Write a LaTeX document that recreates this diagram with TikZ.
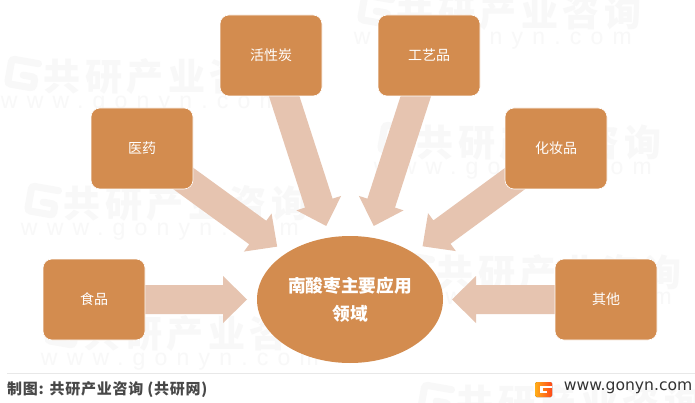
\documentclass[tikz,border=0pt]{standalone}
\usepackage{fontspec}
\setmainfont{Noto Sans CJK SC}
\newfontfamily\latinf{Liberation Sans}
\newfontfamily\sitef{DejaVu Sans}
\usetikzlibrary{calc,backgrounds,shapes.geometric}
\definecolor{boxc}{HTML}{D38C4F}
\definecolor{arrowc}{HTML}{E6C4B0}
\definecolor{wmc}{HTML}{F8F8F8}
\definecolor{srcc}{HTML}{484848}
\definecolor{rulec}{HTML}{E8E8E8}
\tikzset{
  itembox/.style={draw=white,line width=0.6pt,fill=boxc,rounded corners=9pt,minimum width=102pt,minimum height=81pt,inner sep=0pt,text=white,font=\fontsize{14}{16}\selectfont},
  hub/.style={ellipse,fill=boxc,minimum width=186pt,minimum height=127pt,inner sep=0pt,text=white,align=center,font=\fontsize{17.7}{28}\selectfont\bfseries},
  wmcn/.style={text=wmc,anchor=west,inner sep=0pt,font=\fontsize{37}{39}\selectfont\bfseries\addfontfeatures{LetterSpace=12}},
  wmen/.style={text=wmc,anchor=west,inner sep=0pt,font=\latinf\fontsize{23}{25}\selectfont\addfontfeatures{LetterSpace=40}},
  wmlogo/.style={draw=wmc,line width=7pt,rounded corners=3pt,line cap=round},
  blockfill/.style={fill=arrowc,draw=none},
}
% #1 source node, #2 hub node, #3 tip distance from hub centre
\newcommand{\blockarrow}[3]{%
  \coordinate (tp) at ($(#2)!#3pt!(#1)$);
  \coordinate (hb) at ($(tp)!24pt!(#1)$);
  \fill[blockfill] ($(#1)!14.5pt!-90:(tp)$) -- ($(hb)!14.5pt!90:(#1)$) -- ($(hb)!23.5pt!90:(#1)$) -- (tp) -- ($(hb)!23.5pt!-90:(#1)$) -- ($(hb)!14.5pt!-90:(#1)$) -- ($(#1)!14.5pt!90:(tp)$) -- cycle;
}
% watermark, origin at the centre of its first character
\newcommand{\wmark}[3]{%
  \begin{scope}[shift={(#2,#3)},rotate=-10]
  \draw[wmlogo] (-26,-12) -- (-53,-12) -- (-53,13) -- (-27,13) -- (-27,2) -- (-39,2);
  \node[wmcn] (#1a) at (-18.5,0) {共研产业咨询};
  \node[wmen] (#1b) at (-56,35) {www.gonyn.com};
  \end{scope}
}
\begin{document}
\begin{tikzpicture}[x=1pt,y=-1pt]
\useasboundingbox (0,0) rectangle (695,403);
\begin{scope}[on background layer]
\fill[white] (0,0) rectangle (695,403);
\wmark{wa}{62}{80}
\wmark{wb}{82}{207}
\wmark{wc}{102}{337}
\wmark{wd}{415}{16}
\wmark{we}{435}{146}
\wmark{wf}{455}{276}
\wmark{wg}{475}{406}
\end{scope}
\node[hub] (hubn) at (350,299.5) {南酸枣主要应用\\领域};
\node[itembox] (food) at (94,299.5) {食品};
\node[itembox] (med) at (142,148.5) {医药};
\node[itembox] (carbon) at (271,55.5) {活性炭};
\node[itembox] (craft) at (429,55.5) {工艺品};
\node[itembox] (cosm) at (556,148.5) {化妆品};
\node[itembox] (other) at (606,299.5) {其他};
\begin{scope}[on background layer]
\blockarrow{food}{hubn}{103}
\blockarrow{med}{hubn}{90}
\blockarrow{carbon}{hubn}{77.3}
\blockarrow{craft}{hubn}{77.3}
\blockarrow{cosm}{hubn}{90}
\blockarrow{other}{hubn}{102}
\end{scope}
\draw[rulec,line width=0.8pt] (7,373.5) -- (695,373.5);
\node[anchor=west,inner sep=0pt,text=srcc,font=\fontsize{15}{17}\selectfont\bfseries\addfontfeatures{LetterSpace=5}] (src) at (7,390) {制图: 共研产业咨询 (共研网)};
\node[anchor=east,inner sep=0pt,text=black!80,font=\sitef\fontsize{15.6}{17}\selectfont] (site) at (692.5,387.5) {www.gonyn.com};
\fill[left color=orange!70!yellow!90!white,right color=red!60!orange!90!white,rounded corners=1.5pt] (535,382) rectangle (552,397);
\fill[white] (540,385.5) rectangle (552,387.5);
\fill[white] (540,387.5) rectangle (542.5,393);
\fill[white] (542.5,391) rectangle (547,393);
\end{tikzpicture}
\end{document}
